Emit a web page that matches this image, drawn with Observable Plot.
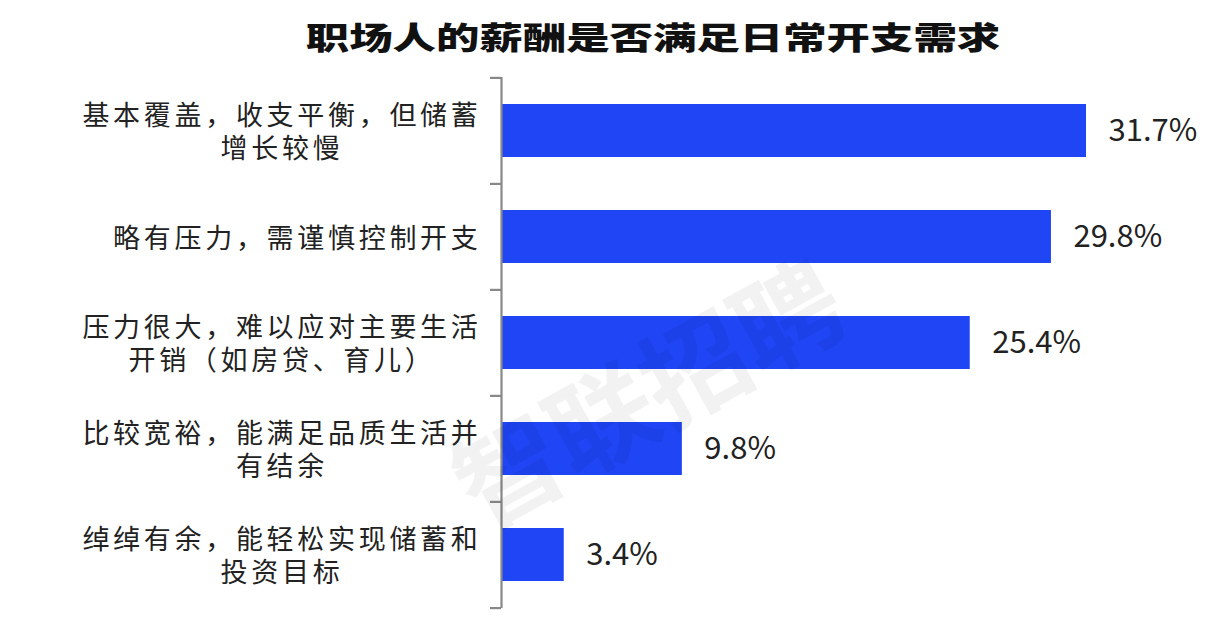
<!DOCTYPE html>
<html><head><meta charset="utf-8">
<script src="https://cdn.jsdelivr.net/npm/d3@7"></script>
<script src="https://cdn.jsdelivr.net/npm/@observablehq/plot@0.6"></script>
<style>
body{margin:0;background:#fff;}
#title{height:70px;width:1219px;display:flex;justify-content:center;align-items:center;font-family:"Noto Sans CJK SC",sans-serif;font-weight:900;font-size:31px;color:#111;}
#title span{display:inline-block;transform:scaleX(1.4);margin-left:86px;white-space:nowrap;}
#chart svg{display:block;}
</style></head><body>
<div id="title"><span></span></div>
<div id="chart"></div>
<script>
const titleText = "职场人的薪酬是否满足日常开支需求";
const categories = [
  "基本覆盖，收支平衡，但储蓄\n增长较慢",
  "略有压力，需谨慎控制开支",
  "压力很大，难以应对主要生活\n开销（如房贷、育儿）",
  "比较宽裕，能满足品质生活并\n有结余",
  "绰绰有余，能轻松实现储蓄和\n投资目标"
];
const values = [31.7, 29.8, 25.4, 9.8, 3.4];
const valueLabels = ["31.7%", "29.8%", "25.4%", "9.8%", "3.4%"];
const watermark = "智联招聘";

document.querySelector("#title span").textContent = titleText;

const data = categories.map((c, i) => ({cat: c, value: values[i], label: valueLabels[i]}));
const step = (608 - 77) / categories.length;

const chart = Plot.plot({
  width: 1219,
  height: 557,
  marginTop: 7,
  marginBottom: 19,
  marginLeft: 501,
  marginRight: 133,
  style: {fontFamily: "'Noto Sans CJK SC', sans-serif", background: "#fff"},
  x: {domain: [0, d3.max(values)], axis: null},
  y: {domain: categories, axis: null, paddingInner: 0.5, paddingOuter: 0.25},
  marks: [
    Plot.barX(data, {x: "value", y: "cat", fill: "#1f45f5"}),
    Plot.ruleX([0], {stroke: "#888", strokeWidth: 2.2}),
    Plot.ruleY(categories, {y: d => d, x1: 0, x2: 0, insetLeft: -11, dy: -step / 2, stroke: "#888", strokeWidth: 2.2}),
    Plot.ruleY([categories[categories.length - 1]], {y: d => d, x1: 0, x2: 0, insetLeft: -11, dy: step / 2, stroke: "#888", strokeWidth: 2.2}),
    Plot.text(data, {x: "value", y: "cat", text: "label", textAnchor: "start", dx: 22, fontSize: 31, fill: "#222"}),
    Plot.text(data, {x: 0, y: "cat", text: "cat", textAnchor: "middle", dx: -20, fontSize: 27, lineHeight: 1.22, fill: "#222"}),
    Plot.text([watermark], {frameAnchor: "middle", text: d => d, dx: -143, dy: 56, rotate: -29, fontSize: 106, fontWeight: "bold", fill: "#000", fillOpacity: 0.05})
  ]
});
document.getElementById("chart").appendChild(chart);

// letter spacing and centered multi-line labels, right-aligned as a block
const flat = categories.map(c => c.replace(/\n/g, ""));
chart.querySelectorAll("text").forEach(t => {
  if (!flat.includes(t.textContent.replace(/\s/g, ""))) return;
  t.style.letterSpacing = "3.7px";
  t.setAttribute("text-anchor", "middle");
  const spans = t.querySelectorAll("tspan");
  const lines = spans.length ? Array.from(spans) : [t];
  const w = d3.max(lines, s => s.getComputedTextLength());
  lines.forEach(s => s.setAttribute("x", -w / 2));
});
</script>
</body></html>
